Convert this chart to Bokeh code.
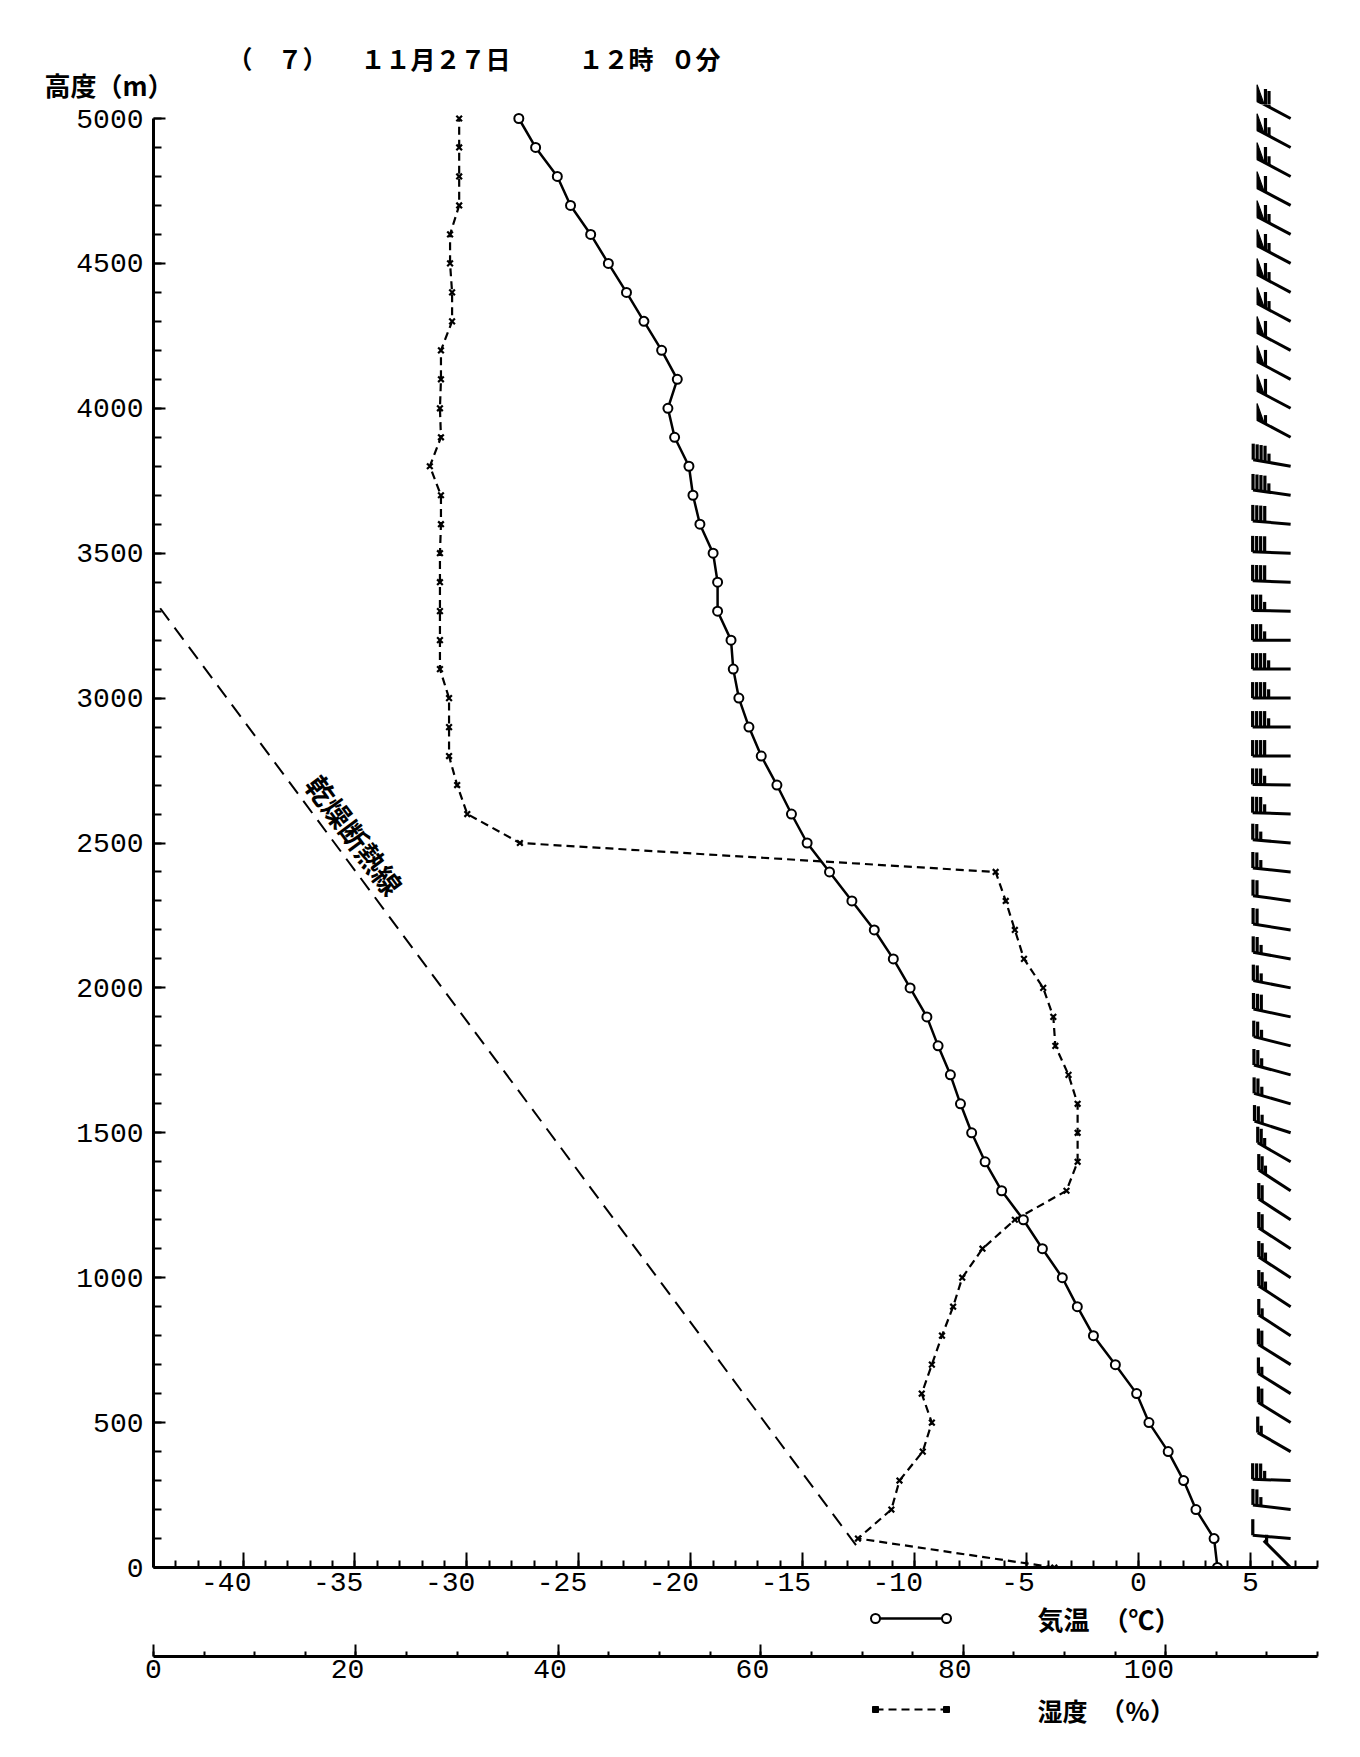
import math
from bokeh.plotting import figure
from bokeh.layouts import column
from bokeh.models import Range1d, LinearAxis, SingleIntervalTicker, Label, ColumnDataSource
from bokeh.embed import file_html
from bokeh.resources import INLINE

# ---------------- data ----------------
heights = [0, 100, 200, 300, 400, 500, 600, 700, 800, 900,
           1000, 1100, 1200, 1300, 1400, 1500, 1600, 1700, 1800, 1900,
           2000, 2100, 2200, 2300, 2400, 2500, 2600, 2700, 2800, 2900,
           3000, 3100, 3200, 3300, 3400, 3500, 3600, 3700, 3800, 3900,
           4000, 4100, 4200, 4300, 4400, 4500, 4600, 4700, 4800, 4900, 5000]

temperature = [3.53, 3.38, 2.57, 2.02, 1.33, 0.47, -0.08, -1.03, -2.01, -2.73,
               -3.40, -4.29, -5.14, -6.11, -6.85, -7.45, -7.95, -8.40, -8.95, -9.45,
               -10.20, -10.95, -11.80, -12.80, -13.80, -14.80, -15.50, -16.15, -16.85, -17.40,
               -17.85, -18.10, -18.20, -18.80, -18.80, -19.00, -19.59, -19.90, -20.08, -20.72,
               -21.02, -20.60, -21.30, -22.09, -22.87, -23.68, -24.47, -25.37, -25.96, -26.93, -27.68]

humidity = [89.0, 69.6, 72.9, 73.7, 76.0, 76.9, 75.9, 76.9, 77.9, 79.0,
            79.9, 81.9, 85.1, 90.2, 91.3, 91.3, 91.3, 90.4, 89.1, 88.9,
            87.9, 86.0, 85.1, 84.2, 83.2, 36.2, 31.0, 30.0, 29.2, 29.2,
            29.2, 28.3, 28.3, 28.3, 28.3, 28.3, 28.4, 28.4, 27.3, 28.4,
            28.3, 28.4, 28.4, 29.5, 29.5, 29.3, 29.3, 30.2, 30.2, 30.2, 30.2]

# wind (direction in degrees the wind blows from, speed in knots)
wind_dir = [315, 275, 277, 272, 300, 302, 302, 302, 303, 303,
            303, 303, 303, 303, 300, 288, 286, 285, 284, 282,
            281, 280, 279, 278, 276, 275, 272, 271, 270, 270,
            270, 270, 270, 271, 272, 272, 275, 278, 280, 298,
            298, 298, 298, 298, 298, 298, 298, 298, 298, 298, 298]
wind_speed = [5, 10, 25, 35, 15, 20, 15, 20, 15, 25,
              25, 20, 20, 25, 25, 25, 25, 25, 25, 30,
              25, 25, 20, 20, 25, 25, 35, 35, 40, 45,
              45, 45, 35, 35, 40, 40, 40, 45, 45, 55,
              60, 60, 60, 65, 65, 65, 65, 60, 65, 65, 70]

adiabat_temp = [-43.7, -12.5]
adiabat_height = [3310, 65]

temp_ticks = [-40, -35, -30, -25, -20, -15, -10, -5, 0, 5]
hum_ticks = [0, 20, 40, 60, 80, 100]

# title "( 7) 11月27日 12時 0分", in its four typed groups
title_parts = ["（\u3000７）", "１１月２７日", "１２時", "０分"]
title_part_x = [227, 360, 578, 670]          # page x where each group starts
ylabel_text = "高度（m）"
adiabat_label = "乾燥断熱線"
temp_legend = "気温\u3000（℃）"
hum_legend = "湿度\u3000（％）"

# ---------------- layout constants (pixels) ----------------
PAGE_W = 1340
FRAME_L, FRAME_W = 153, 1164
FRAME_R = PAGE_W - FRAME_L - FRAME_W
Y_ZERO, Y_5000 = 1567, 118          # page y of 0 m and 5000 m
TOP_H = 104                         # height of the title strip
T_MIN, T_MAX = -44, 8
H_MIN, H_MAX = 0, 115
KX = FRAME_W / (T_MAX - T_MIN)      # px per deg C
KY = (Y_ZERO - Y_5000) / 5000.0     # px per metre
KH = FRAME_W / (H_MAX - H_MIN)      # px per %
Z_MAX = 5000 + (Y_5000 - TOP_H) / KY
MAIN_H = Y_ZERO - TOP_H
MAIN_BOTTOM = 31
C_H, C_BOTTOM = 55, 34
D_H = 48
MONO = "Liberation Mono"
CJK = "Noto Sans CJK JP"


def base_fig(**kw):
    f = figure(output_backend="svg", toolbar_location=None,
               x_axis_location=None, y_axis_location=None,
               outline_line_color=None, background_fill_color="white",
               border_fill_color="white", min_border=0, **kw)
    f.xgrid.visible = False
    f.ygrid.visible = False
    return f


def style_axis(ax, tick_in, minor_in):
    ax.axis_line_width = 3
    ax.axis_line_color = "black"
    ax.major_tick_in = tick_in
    ax.major_tick_out = 0
    ax.minor_tick_in = minor_in
    ax.minor_tick_out = 0
    ax.major_tick_line_width = 2
    ax.minor_tick_line_width = 2
    ax.major_label_text_font = MONO
    ax.major_label_text_font_size = "28px"
    ax.major_label_text_color = "black"


def pad_label(v):
    s = str(v)
    return s + "\u00a0" * (len(s) - 1)


# ---------------- wind barb geometry ----------------
BARB_X = 6.8      # station position in deg C units
SHAFT = 38.0      # px
BH = 16.0         # barb height px
SP = 4.0          # barb spacing px
PW = 8.0          # pennant width px

shaft = dict(x0=[], y0=[], x1=[], y1=[])
barb = dict(x0=[], y0=[], x1=[], y1=[])
flag_x, flag_y = [], []
for z, d, s in zip(heights, wind_dir, wind_speed):
    ux, uy = math.sin(math.radians(d)), math.cos(math.radians(d))
    fx, fy = SHAFT * ux, SHAFT * uy
    shaft["x0"].append(BARB_X); shaft["y0"].append(z)
    shaft["x1"].append(BARB_X + fx / KX); shaft["y1"].append(z + fy / KY)

    def pt(pos):
        return fx - ux * pos, fy - uy * pos

    n50 = s // 50
    rem = s - 50 * n50
    n10 = rem // 10
    n5 = 1 if rem % 10 >= 5 else 0
    pos = 0.0
    for _ in range(n50):
        ax_, ay_ = pt(pos)
        bx_, by_ = pt(pos + PW)
        flag_x.append([BARB_X + ax_ / KX, BARB_X + bx_ / KX, BARB_X + ax_ / KX])
        flag_y.append([z + ay_ / KY, z + by_ / KY, z + (ay_ + BH) / KY])
        pos += PW + 1.5
    for _ in range(n10):
        ax_, ay_ = pt(pos)
        barb["x0"].append(BARB_X + ax_ / KX); barb["y0"].append(z + ay_ / KY)
        barb["x1"].append(BARB_X + ax_ / KX); barb["y1"].append(z + (ay_ + BH) / KY)
        pos += SP
    if n5:
        if n50 == 0 and n10 == 0:
            pos += SP
        ax_, ay_ = pt(pos)
        barb["x0"].append(BARB_X + ax_ / KX); barb["y0"].append(z + ay_ / KY)
        barb["x1"].append(BARB_X + ax_ / KX); barb["y1"].append(z + (ay_ + BH * 0.55) / KY)


def draw_barbs(f):
    f.segment("x0", "y0", "x1", "y1", source=ColumnDataSource(shaft),
              line_color="black", line_width=3)
    f.segment("x0", "y0", "x1", "y1", source=ColumnDataSource(barb),
              line_color="black", line_width=3.2)
    f.patches(flag_x, flag_y, fill_color="black", line_color="black", line_width=1.2)


# ---------------- A: title strip (own root, full width frame) ----------------
fa = base_fig(frame_width=PAGE_W, frame_height=TOP_H,
              x_range=Range1d(T_MIN - FRAME_L / KX, T_MIN + (PAGE_W - FRAME_L) / KX),
              y_range=Range1d(Z_MAX, Z_MAX + TOP_H / KY))
draw_barbs(fa)
for part, px in zip(title_parts, title_part_x):
    fa.add_layout(Label(x=px, y=TOP_H - 57, x_units="screen", y_units="screen",
                        text=part, text_font=CJK, text_font_size="25px",
                        text_font_style="bold", text_baseline="middle",
                        text_color="black"))
fa.add_layout(Label(x=44, y=TOP_H - 84, x_units="screen", y_units="screen",
                    text=ylabel_text, text_font=CJK, text_font_size="26px",
                    text_font_style="bold", text_baseline="middle",
                    text_color="black"))

# ---------------- B: main chart ----------------
hum_range = Range1d(H_MIN, H_MAX)
fb = base_fig(frame_width=FRAME_W, frame_height=MAIN_H,
              x_range=Range1d(T_MIN, T_MAX), y_range=Range1d(0, Z_MAX),
              min_border_left=FRAME_L, min_border_right=FRAME_R,
              min_border_top=0, min_border_bottom=MAIN_BOTTOM)
fb.extra_x_ranges = {"hum": hum_range}

yax = LinearAxis(ticker=SingleIntervalTicker(interval=500, num_minor_ticks=5),
                 bounds=(0, 5000))
style_axis(yax, 12, 8)
yax.major_label_standoff = 10
fb.add_layout(yax, "left")

tax = LinearAxis(ticker=SingleIntervalTicker(interval=5, num_minor_ticks=5),
                 bounds=(T_MIN, T_MAX))
style_axis(tax, 15, 7)
tax.major_label_standoff = 0
tax.major_label_overrides = {v: pad_label(v) for v in temp_ticks}
fb.add_layout(tax, "below")

fb.line(adiabat_temp, adiabat_height, line_color="black", line_width=2,
        line_dash="15 9")

hum_src = ColumnDataSource(dict(h=humidity, z=heights))
fb.line("h", "z", source=hum_src, x_range_name="hum",
        line_color="black", line_width=2.2, line_dash="8 5")
fb.scatter("h", "z", source=hum_src, x_range_name="hum",
           marker="x", size=8, line_color="black", line_width=2.2)

tmp_src = ColumnDataSource(dict(t=temperature, z=heights))
fb.line("t", "z", source=tmp_src, line_color="black", line_width=2.5)
fb.scatter("t", "z", source=tmp_src, marker="circle", size=9,
           line_color="black", line_width=2, fill_color="white")

draw_barbs(fb)

slope = math.atan2((adiabat_height[0] - adiabat_height[1]) * KY,
                   (adiabat_temp[1] - adiabat_temp[0]) * KX)
zl = 2480
tl = adiabat_temp[0] + (adiabat_height[0] - zl) * (adiabat_temp[1] - adiabat_temp[0]) / (adiabat_height[0] - adiabat_height[1])
fb.add_layout(Label(x=tl, y=zl, text=adiabat_label, angle=-slope,
                    text_align="center", text_baseline="bottom", y_offset=2,
                    text_font=CJK, text_font_size="28px", text_font_style="bold",
                    text_color="black"))

# ---------------- C: temperature legend + humidity axis ----------------
LEG_X0, LEG_X1, LEG_TX = 875, 946, 1037   # page x of legend sample and text


def legend_fig(height, bottom):
    return base_fig(frame_width=FRAME_W, frame_height=height,
                    x_range=hum_range, y_range=Range1d(0, height),
                    min_border_left=FRAME_L, min_border_right=FRAME_R,
                    min_border_top=0, min_border_bottom=bottom)


fc = legend_fig(C_H, C_BOTTOM)
yc = C_H - (1615 - (Y_ZERO + MAIN_BOTTOM))
lx = [(LEG_X0 - FRAME_L) / KH, (LEG_X1 - FRAME_L) / KH]
fc.line(lx, [yc, yc], line_color="black", line_width=2.5)
fc.scatter(lx, [yc, yc], marker="circle", size=9, line_color="black",
           line_width=2, fill_color="white")
fc.add_layout(Label(x=LEG_TX - FRAME_L, y=yc, x_units="screen", y_units="screen",
                    text=temp_legend, text_font=CJK, text_font_size="26px",
                    text_font_style="bold", text_baseline="middle",
                    text_color="black"))

hax = LinearAxis(ticker=SingleIntervalTicker(interval=20, num_minor_ticks=4),
                 bounds=(H_MIN, H_MAX))
style_axis(hax, 12, 5)
hax.major_label_standoff = -2
hax.major_label_overrides = {v: pad_label(v) for v in hum_ticks}
fc.add_layout(hax, "below")

# ---------------- D: humidity legend ----------------
fd = legend_fig(D_H, 0)
yd = D_H - 19
fd.line(lx, [yd, yd], line_color="black", line_width=2.2, line_dash="8 5")
fd.scatter(lx, [yd, yd], marker="square", size=6, line_color="black",
           fill_color="black")
fd.add_layout(Label(x=LEG_TX - FRAME_L, y=yd, x_units="screen", y_units="screen",
                    text=hum_legend, text_font=CJK, text_font_size="25px",
                    text_font_style="bold", text_baseline="middle",
                    text_color="black"))

body = column(fb, fc, fd, spacing=0)
open("out.html", "w").write(file_html([fa, body], INLINE))
